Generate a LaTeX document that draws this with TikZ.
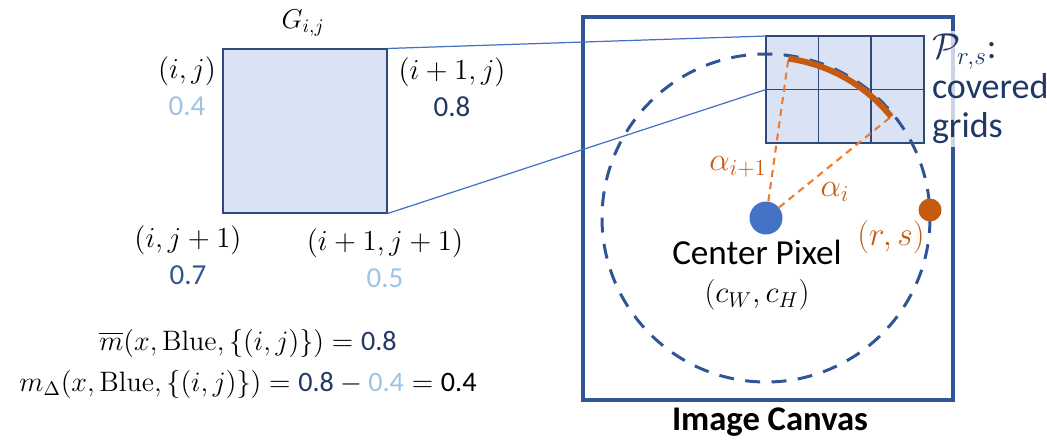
\documentclass[tikz,border=0pt]{standalone}
\usepackage{fix-cm}
\usepackage{amsmath}
\usepackage[no-math]{fontspec}
\setmainfont{Carlito}
\usetikzlibrary{positioning, calc}
\definecolor{cellblue}{HTML}{DAE3F3}
\definecolor{gridline}{HTML}{2F4A78}
\definecolor{lightval}{HTML}{9DC3E6}
\definecolor{darkval}{HTML}{1F3864}
\definecolor{midval}{HTML}{2F5597}
\definecolor{canvasblue}{HTML}{2F5597}
\definecolor{dotblue}{HTML}{4472C4}
\definecolor{rustorange}{HTML}{C55A11}
\definecolor{lightorange}{HTML}{ED7D31}
\tikzset{
  lbl/.style={font=\fontsize{16.5}{21}\selectfont, align=center, inner sep=0pt},
  bigtxt/.style={font=\fontsize{20}{22}\selectfont, inner sep=0pt},
  zoomline/.style={dotblue, line width=0.7pt},
  raydash/.style={lightorange, line width=1.2pt, dash pattern=on 4pt off 3pt},
  gridpen/.style={gridline, line width=0.6pt},
}

\begin{document}
\begin{tikzpicture}[x=0.02cm, y=-0.02cm]
  \useasboundingbox (0,0) rectangle (1047,444);
  % the single grid cell G_{i,j} and its corner values
  \node[draw=gridline, fill=cellblue, line width=0.6pt, minimum size=3.28cm, inner sep=0pt] (gcell) at (305,131) {};
  \node[lbl, font=\fontsize{15.5}{21}\selectfont] (gname) at (303,23) {$G_{i,j}$};
  \node[lbl] (c00) at (187,86) {$(i,j)$\\\textcolor{lightval}{0.4}};
  \node[lbl] (c10) at (452,87) {$(i+1,j)$\\\textcolor{darkval}{0.8}};
  \node[lbl] (c01) at (188,255) {$(i,j+1)$\\\textcolor{midval}{0.7}};
  \node[lbl] (c11) at (385,258) {$(i+1,j+1)$\\\textcolor{lightval}{0.5}};
  % formulas
  \node[lbl, font=\fontsize{16}{21}\selectfont] (form1) at (248,343) {$\overline{m}(x,\mathrm{Blue},\{(i,j)\}) = \textcolor{darkval}{\text{0.8}}$};
  \node[lbl, font=\fontsize{16}{21}\selectfont] (form2) at (248,384) {$m_\Delta(x,\mathrm{Blue},\{(i,j)\}) = \textcolor{darkval}{\text{0.8}} - \textcolor{lightval}{\text{0.4}} = \text{0.4}$};
  % image canvas
  \draw[canvasblue, line width=2.8pt] (583,17) rectangle (953,400);
  \node[bigtxt, font=\fontsize{19.7}{22}\selectfont\bfseries] (canvaslbl) at (770,422) {Image Canvas};
  % covered grids (3 x 2)
  \fill[cellblue] (766,36) rectangle (924,143);
  \foreach \x in {818.5, 871}
    \draw[gridpen] (\x,36) -- (\x,143);
  \draw[gridpen] (766,89.5) -- (924,89.5);
  \draw[gridpen] (766,36) rectangle (924,143);
  \coordinate (gtl) at (766,36);
  \coordinate (gml) at (766,89.5);
  % zoom lines
  \draw[zoomline] (gcell.north east) -- (gtl);
  \draw[zoomline] (gcell.south east) -- (gml);
  % dashed circle round the center pixel
  \draw[canvasblue, line width=1.7pt, dash pattern=on 8.5pt off 6.5pt] (766,218) circle[radius=164];
  \node[circle, fill=dotblue, minimum size=0.66cm, inner sep=0pt] (cp) at (766,218) {};
  \coordinate (a1) at ($(cp)+(-82:161)$);
  \coordinate (a2) at ($(cp)+(-39:161)$);
  \draw[raydash] (cp) -- (a1);
  \draw[raydash] (cp) -- (a2);
  \draw[rustorange, line width=3.4pt] (a1) arc[start angle=-82, end angle=-39, radius=161];
  \node[font=\fontsize{18.5}{21}\selectfont, text=rustorange, inner sep=0pt] (ai1) at (738,167) {$\alpha_{i+1}$};
  \node[font=\fontsize{18.5}{21}\selectfont, text=rustorange, inner sep=0pt] (ai) at (835,192) {$\alpha_i$};
  % the pixel (r,s)
  \node[circle, fill=rustorange, minimum size=0.46cm, inner sep=0pt] (rs) at (930,210) {};
  \node[font=\fontsize{19}{21}\selectfont, text=rustorange, inner sep=0pt] (rslab) at (891,237) {$(r,s)$};
  \node[bigtxt] (cptxt) at (757,252) {Center Pixel};
  \node[font=\fontsize{17.5}{21}\selectfont, inner sep=0pt] (cpcoord) at (757,295) {$(c_W,c_H)$};
  % label of the covered grids
  \node[bigtxt, font=\fontsize{20.5}{22.5}\selectfont, text=darkval, align=left, fill=white, fill opacity=0.75, text opacity=1, inner sep=1.5pt, anchor=west] (cov) at (929,89) {$\mathcal{P}_{r,s}$:\\covered\\grids};
\end{tikzpicture}
\end{document}
